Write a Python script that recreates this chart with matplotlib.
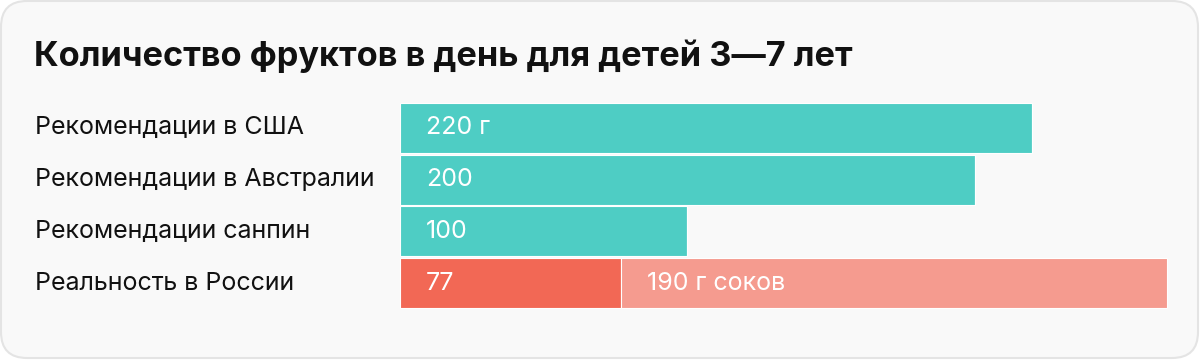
import matplotlib.pyplot as plt
import matplotlib.transforms as mtransforms
from matplotlib.patches import FancyBboxPatch

plt.rcParams['font.family'] = ['Inter', 'DejaVu Sans']

categories = ['Рекомендации в США', 'Рекомендации в Австралии',
              'Рекомендации санпин', 'Реальность в России']
fruit = [220, 200, 100, 77]
juice = [0, 0, 0, 190]
fruit_labels = ['220 г', '200', '100', '77']
juice_labels = ['', '', '', '190 г соков']
title = 'Количество фруктов в день для детей 3—7 лет'

teal = '#4ecdc4'
red = '#f26855'
pink = '#f59b8f'

W, H = 1200, 360
fig = plt.figure(figsize=(W / 100, H / 100), dpi=100)
fig.patch.set_facecolor('white')

# card background in pixel coords
bg = fig.add_axes([0, 0, 1, 1])
bg.set_xlim(0, W)
bg.set_ylim(H, 0)
bg.axis('off')
bg.add_patch(FancyBboxPatch((1, 1), W - 3, H - 3,
                            boxstyle='round,pad=0,rounding_size=26',
                            fc='#f9f9f9', ec='#e4e4e4', lw=1.5))
bg.text(34, 56, title, fontsize=24.7, fontweight='bold', color='#111111',
        va='center', ha='left')

# bar area: x from 400px, 632px per 220 units
px_per_unit = 632 / 220
ax = fig.add_axes([400 / W, 1 - 309 / H, 800 / W, 207 / H])
ax.set_xlim(0, 800 / px_per_unit)
ax.set_ylim(len(categories) - 0.5, -0.5)
ax.axis('off')

ys = list(range(len(categories)))
colors = [teal, teal, teal, red]
ax.barh(ys, fruit, height=0.97, color=colors, edgecolor='#ffffff',
        linewidth=0.8, align='center')
ax.barh(ys, juice, left=fruit, height=0.97, color=pink,
        edgecolor='#ffffff', linewidth=0.8, align='center')

off = mtransforms.offset_copy(ax.transData, fig=fig, x=26 * 72 / 100, y=0,
                              units='points')
for y, f, j, fl, jl in zip(ys, fruit, juice, fruit_labels, juice_labels):
    ax.text(0, y, fl, transform=off, color='white', fontsize=18,
            va='center', ha='left')
    if j:
        ax.text(f, y, jl, transform=off, color='white', fontsize=18,
                va='center', ha='left')

lab = mtransforms.blended_transform_factory(fig.transFigure, ax.transData)
for y, c in zip(ys, categories):
    ax.text(35 / W, y, c, transform=lab, color='#111111', fontsize=18,
            va='center', ha='left')

fig.savefig('out.png', dpi=100, facecolor='white')
